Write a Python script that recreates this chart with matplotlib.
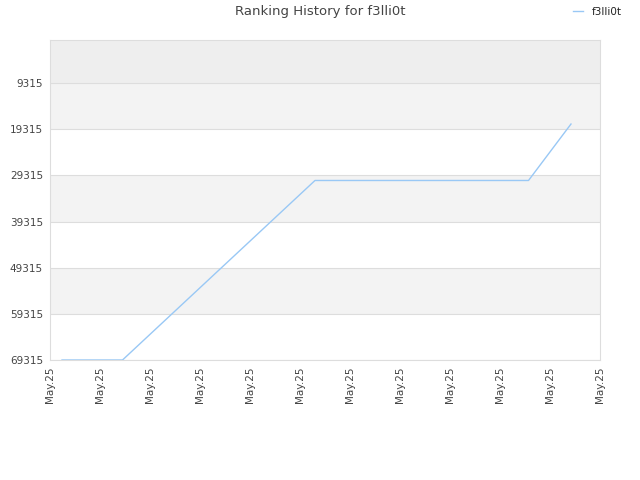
import matplotlib
matplotlib.use("Agg")
import matplotlib.pyplot as plt

# ranking history values
x_pos = [0.24, 1.45, 5.30, 9.57, 10.42]
rank = [69315, 69315, 30430, 30430, 18200]
y_ticks = [9315, 19315, 29315, 39315, 49315, 59315, 69315]
x_labels = ["May.25"] * 12
player = "f3lli0t"

fig = plt.figure(figsize=(6.4, 4.8), dpi=100)
ax = fig.add_axes([50 / 640, 120 / 480, 550 / 640, 320 / 480])

# background bands
ax.axhspan(0, 9315, color="#eeeeee", zorder=0, lw=0)
for i in range(len(y_ticks) - 1):
    if i % 2 == 0:
        ax.axhspan(y_ticks[i], y_ticks[i + 1], color="#f3f3f3", zorder=0, lw=0)
for t in y_ticks:
    ax.axhline(t, color="#dddddd", lw=0.8, zorder=1)

ax.plot(x_pos, rank, color="#99c8f5", lw=1.0, label=player, zorder=3)

ax.set_xlim(0, 11)
ax.set_ylim(69315, 0)
ax.set_yticks(y_ticks)
ax.set_yticklabels([str(t) for t in y_ticks], fontsize=7.5, color="#444444")
ax.set_xticks(range(12))
ax.set_xticklabels(x_labels, rotation=90, fontsize=7.5, color="#444444")
ax.tick_params(length=0, pad=5)

for s in ax.spines.values():
    s.set_color("#dddddd")

fig.suptitle("Ranking History for f3lli0t", x=0.5, y=0.99, fontsize=9.5, color="#444444")
fig.legend(loc="upper right", bbox_to_anchor=(0.986, 1.005), frameon=False, fontsize=7.5,
           handlelength=1.0, labelcolor="#222222")

fig.savefig("out.png", dpi=100)
